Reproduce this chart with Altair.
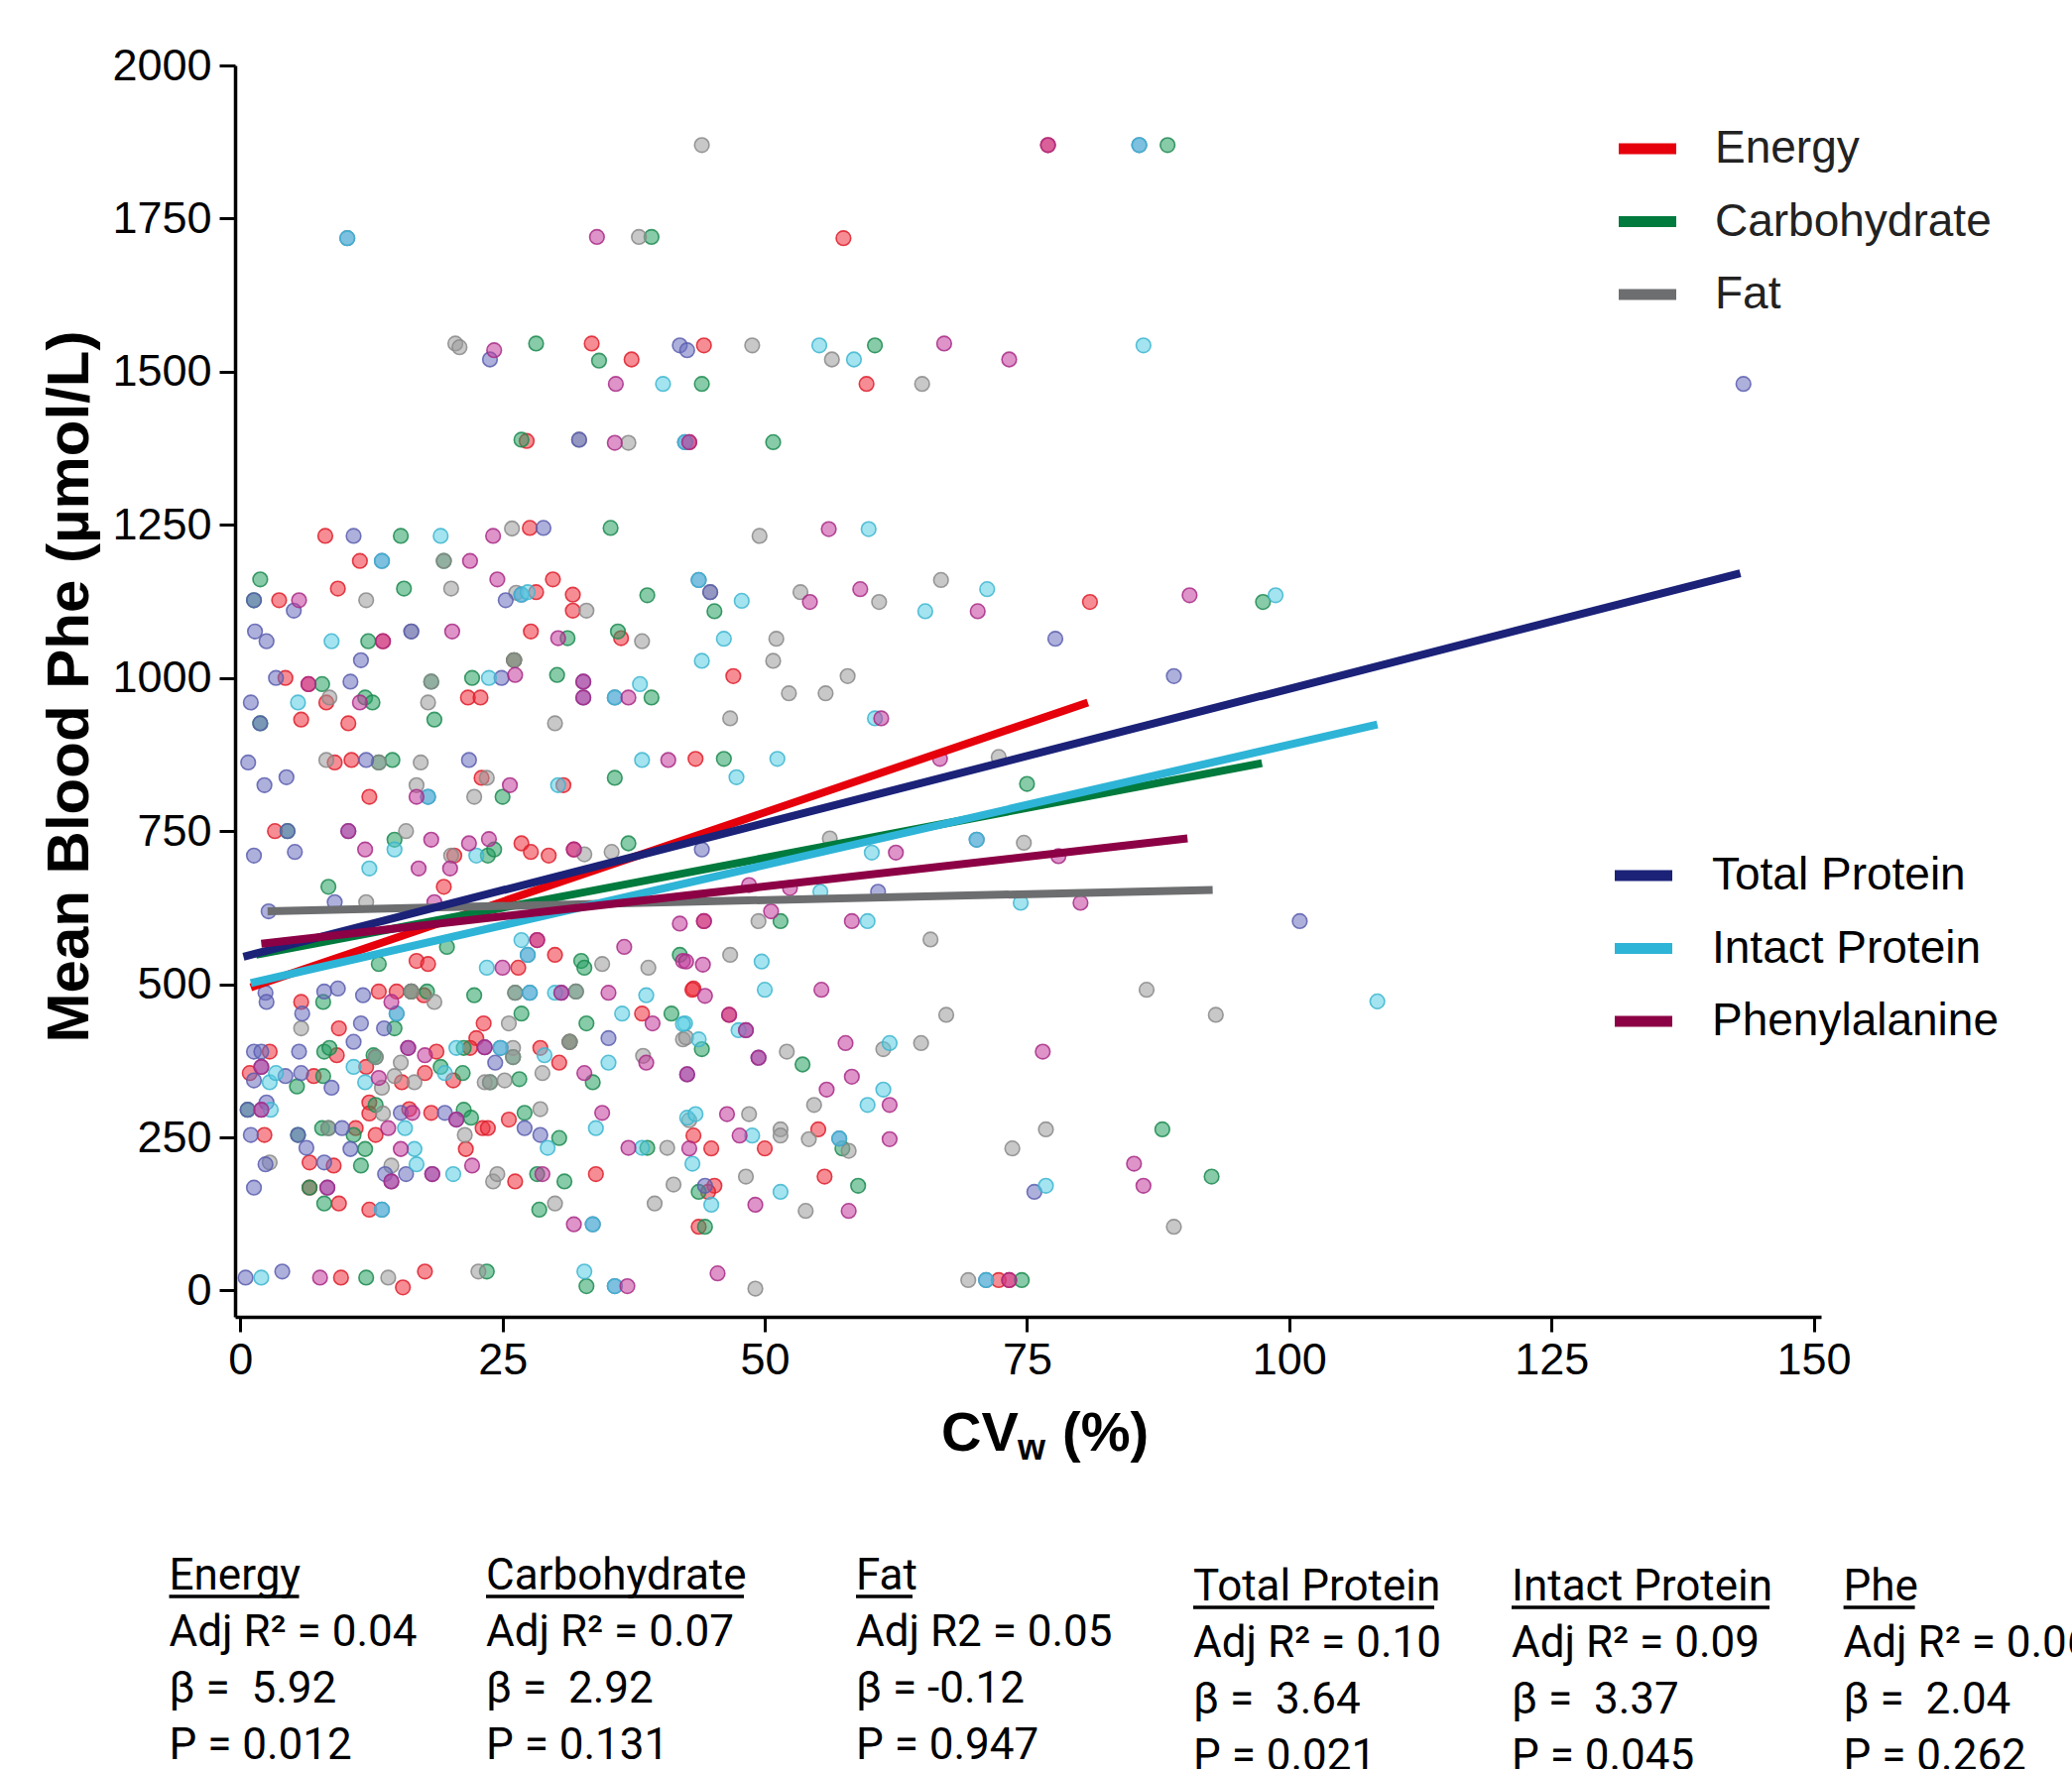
import altair as alt
import pandas as pd

# ---------------- data ----------------
series_names = ["Energy", "Carbohydrate", "Fat", "Total Protein", "Intact Protein", "Phenylalanine"]

energy_pts = [
    (77, 1870), (57.5, 1718), (33.5, 1546), (37.3, 1520), (44.2, 1543), (59.7, 1480), (27.3, 1387), (42.8, 1385),
    (8.1, 1232), (27.6, 1245), (11.4, 1191), (9.3, 1146), (29.8, 1161), (28.2, 1140), (31.7, 1136), (3.7, 1127),
    (31.7, 1110), (81, 1124), (13.6, 1060), (27.7, 1076), (36.3, 1065), (4.3, 1000), (6.5, 990), (8.2, 960),
    (5.8, 932), (10.3, 926), (21.7, 968), (22.9, 968), (47, 1003), (26.1, 1029),
    (9, 862), (10.6, 866), (12.3, 806), (23, 837), (30.8, 825), (43.4, 868),
    (3.3, 750), (20.4, 710), (26.8, 730), (27.7, 716), (29.4, 710), (31.8, 720), (19.4, 659),
    (28.3, 572), (16.8, 538), (17.9, 533), (26.5, 527), (30, 548), (44.2, 603),
    (5.8, 471), (13.2, 488), (14.9, 488), (17.5, 482), (16.3, 488), (43.2, 493), (9.4, 428), (23.2, 436),
    (38.3, 452), (43.1, 491), (46.6, 450), (22.5, 412), (31.4, 406),
    (2.8, 390), (0.9, 355), (7, 350), (9.2, 384), (12, 365), (15.4, 340), (18.7, 390), (17.6, 355), (20.3, 343),
    (21.9, 396), (28.6, 396), (30.4, 372), (12.3, 307),
    (2.3, 254), (11, 265), (12.9, 254), (12.3, 289), (16.1, 296), (18.2, 290), (21.5, 231), (23.1, 265),
    (23.6, 265), (25.6, 279), (43.2, 253), (44.9, 232), (50, 232), (55.1, 263),
    (6.6, 209), (8.9, 204), (6.6, 168), (9.4, 142), (12.3, 132), (26.2, 178), (33.9, 190), (55.7, 186),
    (45.2, 171), (44.6, 161), (43.7, 104),
    (9.6, 21), (15.5, 5), (17.6, 31), (72.3, 17), (73.3, 17),
]

carb_pts = [
    (88.4, 1870), (39.2, 1720), (28.2, 1546), (34.2, 1518), (60.5, 1543), (44, 1480), (26.8, 1389), (50.8, 1385),
    (15.3, 1232), (35.3, 1245), (19.4, 1191), (1.9, 1161), (15.6, 1146), (1.3, 1127), (38.8, 1135), (45.2, 1109),
    (97.5, 1124), (31.2, 1065), (36, 1076), (12.2, 1060),
    (7.8, 990), (18.2, 994), (22.1, 1000), (30.2, 1005), (11.9, 968), (12.6, 960), (18.5, 932), (39.2, 968),
    (1.9, 926), (26.1, 1029),
    (13.2, 862), (14.5, 866), (25, 806), (35.7, 837), (46.1, 868), (75, 827),
    (4.5, 750), (14.7, 736), (23.6, 710), (24.2, 720), (37, 730), (8.4, 659),
    (19.7, 561), (13.2, 533), (32.5, 538), (32.8, 527), (51.5, 603), (41.9, 548),
    (7.9, 471), (17.8, 488), (22.3, 482), (26.2, 486), (32, 488), (26.8, 452), (14.7, 428), (33, 436),
    (41.1, 452), (44, 394), (16.3, 488),
    (8, 390), (8.5, 396), (12.7, 384), (12.9, 381), (7.9, 350), (19.1, 365), (21.2, 355), (21.3, 396),
    (23.8, 340), (26.6, 345), (33.6, 340), (26, 381), (53.6, 369), (5.4, 333), (31.4, 406),
    (0.7, 295), (5.5, 254), (7.8, 265), (8.4, 265), (11.9, 231), (10.8, 254), (12.9, 303), (21.3, 295),
    (22, 282), (27.1, 290), (30.4, 249), (38.8, 233), (57.4, 232), (87.9, 263),
    (11.5, 204), (28.3, 190), (30.9, 178), (8, 142), (28.5, 132), (6.6, 168), (43.7, 161), (58.9, 171),
    (44.3, 104), (92.6, 186),
    (12, 21), (23.5, 31), (33, 7), (74.5, 17),
]

fat_pts = [
    (44, 1870), (38, 1720), (20.5, 1546), (20.9, 1540), (48.8, 1543), (56.4, 1520), (65, 1480), (37, 1384),
    (32.3, 1389),
    (25.9, 1244), (49.5, 1232), (12, 1127), (20.1, 1146), (33, 1110), (26.3, 1139), (44.8, 1140), (53.4, 1140),
    (60.9, 1124), (66.8, 1160), (16.3, 1076), (38.3, 1060), (19.4, 1191),
    (51.1, 1064), (50.8, 1028), (57.9, 1003), (52.3, 975), (55.8, 975), (8.5, 968), (17.9, 960), (30, 926),
    (46.7, 934), (18.2, 994), (26.1, 1029),
    (8.2, 866), (17.2, 862), (16.8, 825), (23.5, 837), (22.3, 806), (13.2, 862),
    (15.8, 750), (20.1, 710), (32.8, 712), (35.4, 716), (12, 634), (56.2, 738), (74.7, 731), (72.3, 871),
    (34.5, 533), (38.9, 527), (49.4, 603), (65.8, 573), (46.7, 548),
    (18.5, 471), (5.8, 428), (25.6, 436), (86.4, 491), (67.3, 450), (93, 450), (42.2, 410), (61.3, 394),
    (64.9, 404), (52.1, 390), (42.5, 413), (26.2, 486), (32, 488), (16.3, 488),
    (13.5, 331), (14.7, 350), (15.3, 372), (16.6, 340), (26, 396), (23.3, 340), (25.2, 343), (28.8, 355),
    (38.4, 383), (54.7, 303), (31.4, 406), (12.9, 381), (23.8, 340), (26, 381),
    (13.6, 289), (21.4, 254), (28.6, 296), (40.7, 233), (42.8, 278), (48.5, 288), (51.5, 263), (51.5, 253),
    (54.2, 247), (58, 228), (76.8, 263), (73.6, 232), (8.4, 265),
    (2.8, 209), (14.4, 204), (24.1, 178), (24.5, 190), (30, 142), (39.5, 142), (41.3, 173), (48.2, 186),
    (53.9, 130), (89, 104),
    (14.1, 21), (22.7, 31), (49.1, 3), (69.4, 17),
]

total_protein_pts = [
    (85.7, 1870), (10.2, 1718), (23.8, 1520), (41.9, 1543), (143.3, 1480), (42.4, 1385), (42.6, 1535), (32.3, 1389),
    (10.8, 1232), (28.9, 1245), (13.5, 1191), (5.1, 1110), (25.3, 1127), (26.8, 1136), (43.7, 1160), (44.8, 1140),
    (1.3, 1127), (16.3, 1076),
    (1.4, 1076), (2.5, 1060), (11.5, 1029), (3.4, 1000), (10.5, 994), (24.9, 1000), (32.7, 994), (32.7, 968),
    (35.7, 968), (1, 960), (77.7, 1064), (89, 1003), (1.9, 926),
    (0.75, 862), (2.3, 825), (4.4, 838), (12, 866), (21.8, 866), (17.9, 806),
    (1.3, 710), (5.2, 716), (10.3, 750), (4.5, 750), (9, 634), (2.7, 619), (44, 720), (60.8, 651), (70.2, 736),
    (101, 603), (27.4, 548),
    (2.4, 486), (2.5, 471), (8, 488), (9.3, 493), (11.7, 482), (27.6, 486), (30.6, 486), (5.9, 452), (10.8, 406),
    (11.5, 436), (13.7, 428), (14.9, 452), (35.1, 412), (23.3, 397), (48.2, 425),
    (1.3, 390), (2, 390), (2, 365), (1.3, 343), (4.3, 350), (5.8, 355), (5.6, 390), (8.7, 331), (16, 396),
    (24.8, 396), (24.3, 372), (49.4, 380), (42.6, 353),
    (2, 295), (2.5, 307), (1, 254), (9.7, 265), (6.3, 233), (10.5, 231), (15.3, 290), (19.5, 290), (20.6, 279),
    (27.1, 265), (28.6, 254), (57.1, 248), (0.7, 295), (5.5, 254),
    (2.4, 206), (1.3, 168), (8, 209), (8.3, 168), (13.5, 132), (13.8, 190), (14.4, 178), (15.8, 190), (18.3, 190),
    (33.6, 108), (75.7, 161), (44.3, 171),
    (0.5, 21), (4, 31), (35.7, 7), (71.1, 17),
]

intact_protein_pts = [
    (85.7, 1870), (10.2, 1718), (42.4, 1385), (13.5, 1191), (26.8, 1136), (43.7, 1160), (35.7, 968), (17.9, 806),
    (70.2, 736), (27.4, 548), (27.6, 486), (14.9, 452), (24.8, 396), (57.1, 248), (13.5, 132), (33.6, 108),
    (35.7, 7), (71.1, 17),
    (40.3, 1480), (55.2, 1543), (58.5, 1520), (86.1, 1543), (19.1, 1232), (59.9, 1243), (47.8, 1126),
    (65.3, 1109), (71.2, 1145), (98.7, 1135), (27.4, 1140),
    (8.7, 1060), (23.7, 1000), (38.1, 990), (5.5, 960), (44, 1028), (46.1, 1064),
    (47.3, 838), (51.2, 868), (38.3, 866), (30.3, 825),
    (12.3, 689), (14.7, 720), (22.5, 710), (60.2, 715), (60.5, 934), (55.3, 651), (59.8, 603), (74.4, 633),
    (26.8, 572), (23.5, 527), (49.7, 537),
    (30, 486), (38.7, 482), (36.4, 452), (42.4, 436), (50, 491), (42.2, 435), (47.5, 425), (43.7, 410), (61.9, 404),
    (2.8, 340), (3.4, 355), (10.8, 365), (11.9, 340), (19.5, 355), (20.6, 396), (29, 384), (35.1, 372), (61.3, 328),
    (2.9, 295), (15.7, 265), (16.6, 231), (29.3, 233), (33.9, 265), (38.3, 233), (42.6, 282), (43.4, 288),
    (48.8, 253), (59.8, 303),
    (16.8, 206), (20.3, 190), (43.1, 207), (51.5, 161), (44.9, 140), (76.8, 171), (108.4, 472),
    (2, 21), (32.8, 31),
]

phe_pts = [
    (77, 1870), (42.8, 1385), (13.6, 1060), (6.5, 990), (31.8, 720), (28.3, 572), (44.2, 603), (46.6, 450),
    (73.3, 17),
    (32.7, 994), (32.7, 968), (10.3, 750), (30.6, 486), (23.3, 397), (48.2, 425), (2, 365), (16, 396), (49.4, 380),
    (42.6, 353), (2, 295), (20.6, 279), (8.3, 168), (14.4, 178), (18.3, 190),
    (34, 1720), (24.2, 1535), (35.8, 1480), (67.1, 1546), (73.3, 1520), (35.7, 1384), (24.1, 1232), (56.1, 1243),
    (21.9, 1191), (24.5, 1161), (5.6, 1127), (59.1, 1145), (54.3, 1124), (70.3, 1109), (90.5, 1135),
    (20.2, 1076), (30.3, 1065), (26.2, 1005), (11.4, 960), (37, 968), (61.1, 934), (25.7, 825), (40.8, 866),
    (16.8, 806), (66.7, 868),
    (11.9, 720), (18.2, 736), (17, 689), (20, 689), (21.8, 730), (23.7, 737), (18.5, 634), (62.5, 715),
    (48.5, 662), (52.4, 657), (50.6, 619), (41.9, 599), (58.3, 603), (78, 709), (80.1, 633),
    (25, 527), (36.6, 561), (42.2, 538), (14.4, 471), (35.1, 486), (39.3, 436), (42.5, 537), (44.1, 532),
    (44.3, 481), (55.4, 491), (57.7, 404), (76.5, 390),
    (13.2, 347), (17.6, 384), (32.8, 355), (38.7, 372), (58.3, 349), (55.9, 328), (61.9, 303),
    (16.4, 290), (14.1, 265), (15.3, 231), (34.5, 290), (37, 233), (46.4, 288), (47.6, 253), (42.8, 232),
    (61.9, 247),
    (28.8, 190), (22.1, 204), (31.8, 108), (49.1, 140), (58, 130), (85.2, 207), (86.1, 171),
    (7.6, 21), (36.9, 7), (45.5, 28),
]

# fitted lines (start / end)
line_start_cv = [1.0, 1.5, 2.6, 0.3, 1.0, 2.0]
line_start_phe = [495, 548, 619, 545, 502, 566]
line_end_cv = [80.8, 97.4, 92.7, 143.0, 108.4, 90.3]
line_end_phe = [960, 861, 654, 1171, 924, 738]

# statistics table under the chart
stat_titles = ["Energy", "Carbohydrate", "Fat", "Total Protein", "Intact Protein", "Phe"]
stat_r2 = ["Adj R² = 0.04", "Adj R² = 0.07", "Adj R2 = 0.05", "Adj R² = 0.10", "Adj R² = 0.09", "Adj R² = 0.06"]
stat_beta = ["β = \u00a05.92", "β = \u00a02.92", "β = -0.12", "β = \u00a03.64", "β = \u00a03.37", "β = \u00a02.04"]
stat_p = ["P = 0.012", "P = 0.131", "P = 0.947", "P = 0.021", "P = 0.045", "P = 0.262"]

y_ticks = [0, 250, 500, 750, 1000, 1250, 1500, 1750, 2000]
x_ticks = [0, 25, 50, 75, 100, 125, 150]

# ---------------- styles / layout ----------------
line_colors = ["#e5000b", "#007a3d", "#6d6e70", "#1b2278", "#2eb4d6", "#8c0045"]
pt_fill = ["#f0303c", "#25a060", "#9a9a9a", "#6b6fc0", "#58cde4", "#c23c9c"]
pt_stroke = ["#dd1f2c", "#1c8a50", "#888888", "#5a5eae", "#3db5cf", "#a82a86"]

W, H = 1599, 1262
PAD_L, PAD_T = 237, 66
FULL_W, FULL_H = 2089, 1784

all_pts = [energy_pts, carb_pts, fat_pts, total_protein_pts, intact_protein_pts, phe_pts]
rows = []
for name, pts in zip(series_names, all_pts):
    for cv, ph in pts:
        rows.append({"series": name, "cv": cv, "phe": ph})
df_pts = pd.DataFrame(rows)

line_rows = []
for i, name in enumerate(series_names):
    line_rows.append({"series": name, "cv": line_start_cv[i], "phe": line_start_phe[i]})
    line_rows.append({"series": name, "cv": line_end_cv[i], "phe": line_end_phe[i]})
df_lines = pd.DataFrame(line_rows)

xscale = alt.Scale(domain=[-0.5, 150.7], nice=False, zero=False)
yscale = alt.Scale(domain=[-43, 2000], nice=False, zero=False)

xaxis = alt.Axis(values=x_ticks, title=None, grid=False, labelFont="Liberation Sans", labelFontSize=45,
                 labelColor="black", labelPadding=6, tickSize=15, tickWidth=3, tickColor="black",
                 domainColor="black", domainWidth=3.5, labelFlush=False, labelOverlap=False, format="d")
yaxis = alt.Axis(values=y_ticks, title="Mean Blood Phe (µmol/L)", grid=False, labelFont="Liberation Sans",
                 labelFontSize=45, labelColor="black", labelPadding=8, tickSize=16, tickWidth=3,
                 tickColor="black", domainColor="black", domainWidth=3.5, labelFlush=False,
                 labelOverlap=False, format="d",
                 titleFont="Liberation Sans", titleFontSize=60, titleFontWeight="bold", titleColor="black",
                 titleAngle=270, titleX=-149, titleY=626, titleAlign="center", titleBaseline="alphabetic")

points = alt.Chart(df_pts).mark_circle(size=215, strokeWidth=1.6, fillOpacity=0.55, strokeOpacity=0.85).encode(
    x=alt.X("cv:Q", scale=xscale, axis=xaxis),
    y=alt.Y("phe:Q", scale=yscale, axis=yaxis),
    fill=alt.Fill("series:N", scale=alt.Scale(domain=series_names, range=pt_fill), legend=None),
    stroke=alt.Stroke("series:N", scale=alt.Scale(domain=series_names, range=pt_stroke), legend=None),
)

group_a = series_names[:3]
group_b = series_names[3:]


def legend(x, y, font_size, color, row_pad, label_off):
    return alt.Legend(title=None, orient="none", legendX=x, legendY=y, padding=0, offset=0,
                      symbolType="stroke", symbolSize=3364, symbolStrokeWidth=11,
                      labelFont="Liberation Sans", labelFontSize=font_size, labelColor=color,
                      labelOffset=label_off, rowPadding=row_pad, labelLimit=500)


lines_a = alt.Chart(df_lines[df_lines.series.isin(group_a)]).mark_line(strokeWidth=8).encode(
    x=alt.X("cv:Q", scale=xscale),
    y=alt.Y("phe:Q", scale=yscale),
    color=alt.Color("series:N", scale=alt.Scale(domain=group_a, range=line_colors[:3]),
                    legend=legend(1389.5, 49.5, 46, "#222222", 15.5, 33.5)),
)
lines_b = alt.Chart(df_lines[df_lines.series.isin(group_b)]).mark_line(strokeWidth=8).encode(
    x=alt.X("cv:Q", scale=xscale),
    y=alt.Y("phe:Q", scale=yscale),
    color=alt.Color("series:N", scale=alt.Scale(domain=group_b, range=line_colors[3:]),
                    legend=legend(1385.5, 782.5, 46, "black", 15.5, 34.5)),
)


# ---- x axis title with subscript ----
def label(text, x, y, size, bold=True, font="Liberation Sans", align="left"):
    return alt.Chart(pd.DataFrame({"t": [text]})).mark_text(
        align=align, baseline="alphabetic", font=font, fontSize=size,
        fontWeight="bold" if bold else "normal", color="black").encode(
        text="t:N", x=alt.value(x), y=alt.value(y))


xtitle = [
    label("CV", 712, 1397, 56),
    label("w", 789, 1406, 36),
    label("(%)", 834, 1397, 56),
]

# ---- statistics table ----
col_x = [-66.5, 253, 626, 966, 1287, 1621.6]
col_y0 = [1537, 1537, 1537, 1548, 1548, 1548]
underline_len = [131, 260, 57, 243, 260, 72]
ROW_H = 57

table = []
for i in range(6):
    lines_txt = [stat_titles[i], stat_r2[i], stat_beta[i], stat_p[i]]
    for r, t in enumerate(lines_txt):
        table.append(label(t, col_x[i], col_y0[i] + r * ROW_H, 44, bold=False, font="Roboto"))
    table.append(
        alt.Chart(pd.DataFrame({"a": [0]})).mark_rule(color="black", strokeWidth=3.5).encode(
            x=alt.value(col_x[i]), x2=alt.value(col_x[i] + underline_len[i]),
            y=alt.value(col_y0[i] + 7))
    )

chart = alt.layer(points, lines_a, lines_b, *xtitle, *table).resolve_scale(
    color="independent"
).properties(
    width=W, height=H,
    autosize=alt.AutoSizeParams(type="none"),
    padding={"left": PAD_L, "top": PAD_T, "right": FULL_W - PAD_L - W, "bottom": FULL_H - PAD_T - H},
    background="white",
).configure_view(stroke=None)

chart.save("out.html", embed_options={"renderer": "svg", "actions": False})
